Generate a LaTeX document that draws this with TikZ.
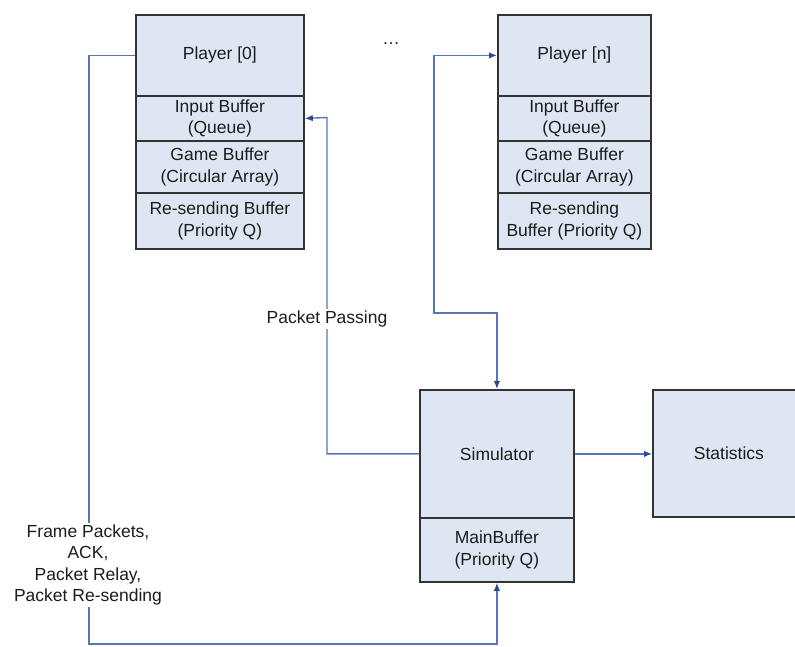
\documentclass[tikz,border=0pt]{standalone}
\usepackage{fontspec}
\setmainfont{Liberation Sans}
\usetikzlibrary{arrows.meta}
\definecolor{boxfill}{HTML}{DFE6F3}
\definecolor{boxline}{HTML}{333333}
\definecolor{wire}{HTML}{5677B4}
\definecolor{tip}{HTML}{2A4A92}
\definecolor{ink}{HTML}{1C1C1C}
\begin{document}
\begin{tikzpicture}[x=1pt,y=-1pt,
  every node/.style={font=\fontsize{17.5}{21.5}\selectfont, text=ink, inner sep=0pt},
  part/.style={draw=boxline, line width=1.8pt, fill=boxfill, align=center, anchor=north west},
  conn/.style={draw=wire, line width=1.4pt},
  arr/.style={-{Latex[length=8pt,width=6.5pt,color=tip]}},
  biarr/.style={{Latex[length=8pt,width=6.5pt,color=tip]}-{Latex[length=8pt,width=6.5pt,color=tip]}},
  lbl/.style={fill=white, align=center, inner sep=2pt}]
\clip (0,0) rectangle (795,646);

% Player [0] with its buffers
\node[part, minimum width=168pt, minimum height=81pt] (p0) at (135,14) {Player [0]};
\node[part, minimum width=168pt, minimum height=45pt] (ib0) at (135,95) {Input Buffer\\(Queue)};
\node[part, minimum width=168pt, minimum height=52pt] (gb0) at (135,140) {Game Buffer\\(Circular Array)};
\node[part, minimum width=168pt, minimum height=56pt] (rb0) at (135,192) {Re-sending Buffer\\(Priority Q)};

% Player [n] with its buffers
\node[part, minimum width=153pt, minimum height=81pt] (pn) at (497,14) {Player [n]};
\node[part, minimum width=153pt, minimum height=45pt] (ibn) at (497,95) {Input Buffer\\(Queue)};
\node[part, minimum width=153pt, minimum height=52pt] (gbn) at (497,140) {Game Buffer\\(Circular Array)};
\node[part, minimum width=153pt, minimum height=56pt] (rbn) at (497,192) {Re-sending\\Buffer (Priority Q)};

\node (dots) at (391,44) {…};

% Simulator and its main buffer
\node[part, minimum width=154pt, minimum height=128pt] (sim) at (419,389) {Simulator};
\node[part, minimum width=154pt, minimum height=64pt] (mb) at (419,517) {MainBuffer\\(Priority Q)};

% Statistics
\node[part, minimum width=152pt, minimum height=127pt] (stats) at (652,389) {Statistics};

% Routing points
\coordinate (loop) at (89,644);
\coordinate (pp) at (327,117.5);
\coordinate (nn) at (434,313);

% Connectors
\draw[conn, arr] (p0.west) -| (loop) -| (mb.south);
\draw[conn, arr] (sim.west) -| (pp) -- (ib0.east);
\draw[conn, biarr] (pn.west) -| (nn) -| (sim.north);
\draw[conn, arr] (sim.east) -- (stats.west |- sim.east);

% Connector labels
\node[lbl] (lpp) at (327,319) {Packet Passing};
\node[lbl] (lloop) at (88,565) {Frame Packets,\\ACK,\\Packet Relay,\\Packet Re-sending};
\end{tikzpicture}
\end{document}
